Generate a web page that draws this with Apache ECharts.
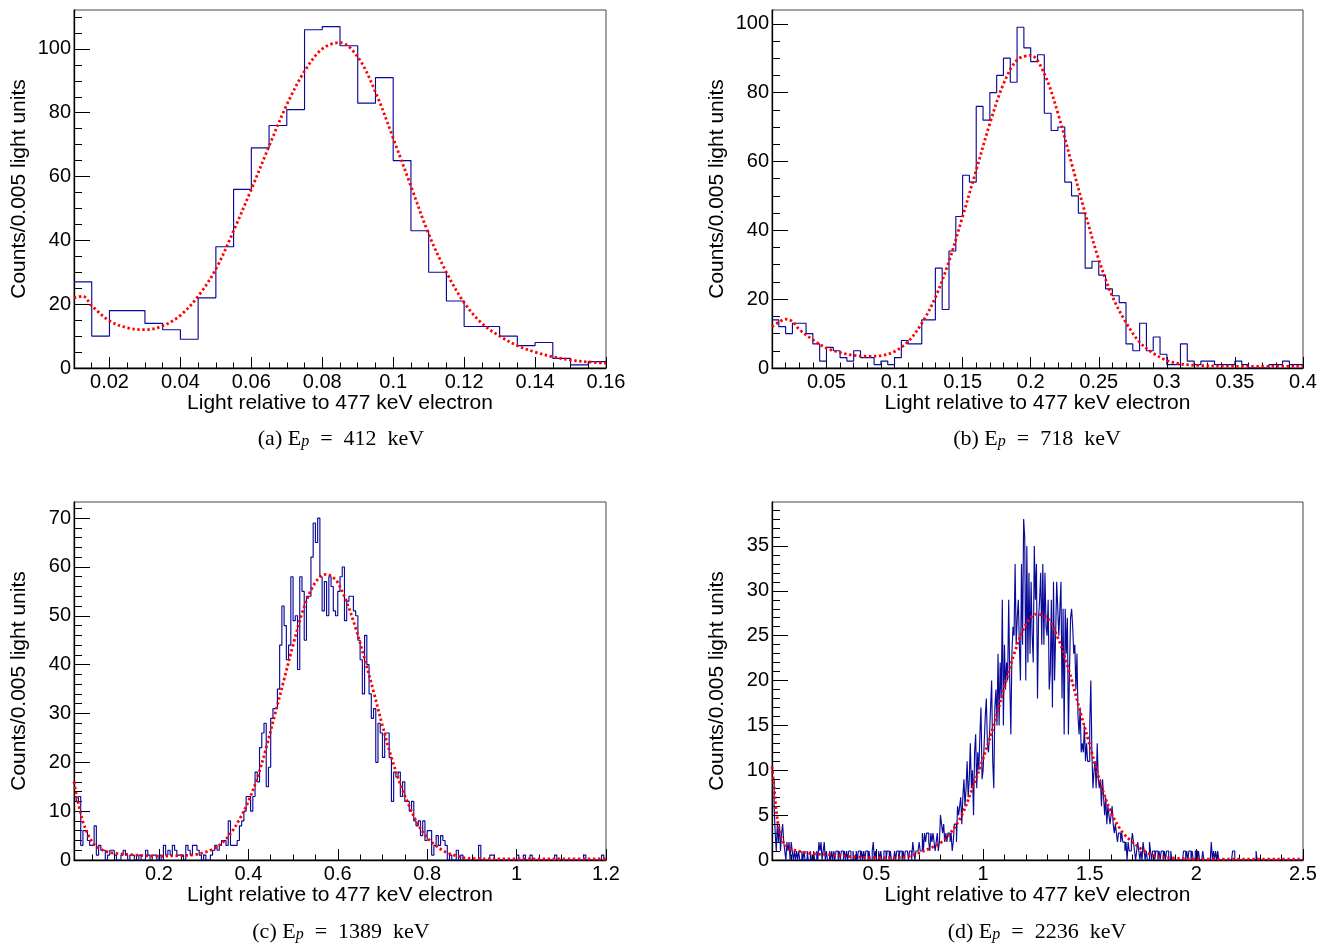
<!DOCTYPE html>
<html><head><meta charset="utf-8">
<script src="https://cdn.jsdelivr.net/npm/echarts@6/dist/echarts.min.js"></script>
<style>html,body{margin:0;padding:0;background:#fff}#c{width:1325px;height:945px}</style>
</head><body><div id="c"></div>
<script>
// ---------------- DATA ----------------
const binWidth = 0.005;
const histStart = 0.01;

// (a) Ep = 412 keV : counts per 0.005 bin from 0.01 to 0.16
const histA = [27,10,18,18,14,12,9,22,38,56,69,76,81,106,107,101,83,91,65,43,30,21,13,13,10,7,8,3,1,2];
const fitA = [[0.01,22],[0.0125,22.5],[0.015,19.5],[0.02,14.8],[0.025,12.6],[0.03,12],[0.035,13.2],[0.04,16.5],[0.045,22.5],[0.05,31],[0.055,43],[0.06,56],[0.065,69.5],[0.07,82.5],[0.075,93],[0.08,100],[0.085,102],[0.09,97.5],[0.095,86.5],[0.1,72],[0.105,57],[0.11,42],[0.115,30],[0.12,20.5],[0.125,14],[0.13,10],[0.135,7],[0.14,5],[0.145,3.5],[0.15,2.5],[0.155,1.9],[0.16,1.5]];

// (b) Ep = 718 keV : 0.01 .. 0.40
const histB = [14,12,10,13,13,10,7,2,6,5, 3,2,5,3,3,1,2,1,3,8, 7,7,14,14,29,17,34,44,56,54, 76,72,80,85,90,83,99,93,89,91, 74,69,70,54,50,45,29,31,27,23, 21,19,7,5,13,5,9,4,1,1, 7,2,1,2,2,1,1,1,2,1, 0,0,0,1,1,2,1,1];
const fitB = [[0.01,12],[0.015,13.3],[0.02,14.2],[0.025,13.5],[0.03,11.2],[0.04,8.2],[0.05,5.8],[0.06,4.5],[0.07,3.7],[0.08,3.4],[0.09,3.6],[0.1,4.8],[0.11,7.7],[0.12,13],[0.13,20.5],[0.14,31],[0.15,44],[0.16,57.5],[0.17,71],[0.18,82.5],[0.19,89.5],[0.2,90.8],[0.21,85.5],[0.22,74],[0.23,59.5],[0.24,45],[0.25,31.5],[0.26,20.8],[0.27,13.2],[0.28,7.5],[0.29,4.3],[0.3,2.2],[0.31,1.2],[0.32,0.8],[0.35,0.5],[0.4,0.5]];

// (c) Ep = 1389 keV : 0.01 .. 1.20
const histC = [13,12,13,3,6,6,4,3,3,7, 1,3,2,2,0,1,2,2,1,0, 0,1,2,1,0,1,1,0,0,1, 0,0,2,1,0,1,1,0,1,0,
 3,1,2,1,3,2,1,1,1,0, 3,2,1,3,3,2,1,0,1,0, 0,1,2,3,2,3,4,4,3,8, 3,3,3,4,7,8,10,13,13,10,
 13,18,16,23,26,28,15,19,29,31, 31,35,44,52,48,41,44,58,49,50, 39,58,55,45,54,54,62,69,65,70, 58,51,57,50,58,56,51,50,55,58,
 60,49,53,54,54,51,50,45,41,34, 46,40,34,29,31,20,28,26,21,26, 26,21,12,18,17,18,13,16,12,12, 10,12,8,7,8,5,8,4,6,6,
 1,3,5,3,5,4,3,0,1,0, 0,2,0,1,0,0,0,0,0,0, 0,3,0,0,0,0,1,1,0,0, 0,0,0,0,0,0,0,0,1,0,
 0,1,0,0,1,0,0,0,0,0, 0,0,0,0,0,1,0,0,0,0, 0,0,0,0,0,0,0,0,1,0, 0,0,0,0,0,0,1,0];
const fitC = [[0.01,16],[0.015,13.5],[0.02,11.5],[0.025,9.5],[0.03,7.8],[0.04,5.5],[0.05,3.8],[0.06,2.8],[0.08,1.8],[0.1,1.4],[0.15,1.0],[0.2,0.8],[0.25,0.9],[0.28,1.1],[0.3,1.5],[0.32,2.2],[0.34,3.4],[0.36,5.4],[0.38,8.3],[0.4,12],[0.42,16.8],[0.44,23],[0.46,30],[0.48,37],[0.5,44],[0.52,50.5],[0.54,55.2],[0.56,58],[0.575,58.5],[0.59,57.8],[0.6,56.8],[0.62,52.8],[0.64,47.5],[0.66,41.2],[0.68,34.5],[0.7,27.5],[0.72,21],[0.74,15.5],[0.76,11],[0.78,7.2],[0.8,4.6],[0.82,2.9],[0.84,1.7],[0.86,1.0],[0.88,0.5],[0.9,0.3],[1.0,0.2],[1.1,0.2],[1.2,0.2]];

// (d) Ep = 2236 keV : 0.01 .. 2.50
const histD = [9,9,6,3,1,4,2,4,1,3,4,2,1,0,2,1,2,0,
 2,1,0,1,0,1,0,1,0,0, 1,0,1,0,0,1,0,0,1,0, 0,1,0,0,1,0,2,1,2,0, 1,2,0,1,0,0,1,0,1,0,
 1,0,1,1,0,1,0,1,1,0, 1,0,1,0,1,1,0,0,1,0, 0,1,0,1,1,0,1,0,1,0, 1,1,0,1,0,0,1,2,0,1, 0,0,1,0,1,0,0,1,1,0, 1,1,0,1,0,0,0,1,0,1,
 1,0,1,1,0,1,0,1,1,1, 0,1,1,0,2,1,0,1,1,1, 2,1,1,3,1,3,2,3,3,2, 1,3,2,3,2,1,2,3,1,2,
 5,4,3,4,2,3,2,3,3,2, 3,1,2,4,4,2,6,5,6,7, 4,7,9,6,8,11,7,9,13,8, 10,5,12,14,8,12,10,14,17,9,
 10,13,16,18,13,12,14,17,20,11, 8,17,19,15,23,15,22,18,29,15, 24,19,22,20,29,20,14,23,26,25, 33,24,27,29,24,20,33,24,38,36,
 20,35,22,32,23,31,25,22,35,29, 33,18,27,29,32,24,33,24,32,26, 25,29,19,21,29,17,31,20,25,31, 28,25,28,31,18,28,14,28,23,27,
 14,21,27,28,26,23,24,19,23,16, 14,17,12,13,12,15,11,13,11,11, 15,20,12,8,10,11,8,13,9,8, 9,6,9,7,5,7,4,6,5,4,
 5,6,4,3,4,3,2,3,3,2, 3,2,2,1,2,0,2,1,1,2, 3,2,1,0,1,2,1,0,1,0, 2,1,0,1,0,0,2,1,0,1,
 1,0,1,1,0,1,0,1,1,0, 1,0,1,1,0,0,1,0,0,0, 0,0,0,0,0,0,0,0,1,1, 0,1,0,1,1,0,1,0,0,1,
 1,0,1,0,0,0,1,0,0,0, 0,0,0,0,2,0,1,0,1,0, 1,0,0,0,0,0,0,0,0,0, 0,0,0,0,1,1,0,0,0,0,
 0,0,0,0,0,0,0,0,0,0, 0,0,0,0,0,0,1,0,0,0, 0,0,0,0,0,0,0,0,0,0, 0,0,0,0,0,0,0,0,0,0,
 0,0,0,0,0,0,0,0,0,0, 0,0,0,0,0,0,0,0,0,0];
const fitD = [[0.01,10.4],[0.02,8],[0.03,5.5],[0.04,3.8],[0.05,2.8],[0.06,2.1],[0.08,1.5],[0.1,1.2],[0.15,0.9],[0.2,0.7],[0.3,0.55],[0.4,0.35],[0.5,0.25],[0.6,0.27],[0.65,0.4],[0.7,0.8],[0.75,1.3],[0.8,1.9],[0.85,3.1],[0.9,5],[0.95,8],[1.0,11.3],[1.05,15],[1.1,19.3],[1.15,23.3],[1.2,26.2],[1.25,27.4],[1.3,27],[1.35,24.8],[1.4,21.3],[1.45,17],[1.5,12.8],[1.55,8.6],[1.6,5.3],[1.65,3.2],[1.7,2],[1.75,1.1],[1.8,0.5],[1.9,0.2],[2.0,0.1],[2.5,0.1]];

// tick labels
const xTicksA = [0.02,0.04,0.06,0.08,0.1,0.12,0.14,0.16];
const xTicksB = [0.05,0.1,0.15,0.2,0.25,0.3,0.35,0.4];
const xTicksC = [0.2,0.4,0.6,0.8,1,1.2];
const xTicksD = [0.5,1,1.5,2,2.5];
const yTicksA = [0,20,40,60,80,100];
const yTicksB = [0,20,40,60,80,100];
const yTicksC = [0,10,20,30,40,50,60,70];
const yTicksD = [0,5,10,15,20,25,30,35];

const captions = ['(a) E{p|p}  =  412  keV','(b) E{p|p}  =  718  keV','(c) E{p|p}  =  1389  keV','(d) E{p|p}  =  2236  keV'];
const xTitle = 'Light relative to 477 keV electron';
const yTitle = 'Counts/0.005 light units';

// ---------------- LAYOUT ----------------
const panels = [
  {grid:{left:74, top:10, width:532, height:358}, x:[0.01,0.16], y:[0,112.2], xt:xTicksA, yt:yTicksA, xm:0.005, ym:5, h:histA, f:fitA, cap:[341,439]},
  {grid:{left:772, top:10, width:531, height:358}, x:[0.01,0.4], y:[0,104], xt:xTicksB, yt:yTicksB, xm:0.01, ym:5, h:histB, f:fitB, cap:[1037,439]},
  {grid:{left:74, top:502, width:532, height:358}, x:[0.01,1.2], y:[0,73.3], xt:xTicksC, yt:yTicksC, xm:0.05, ym:2, h:histC, f:fitC, cap:[341,932]},
  {grid:{left:772, top:502, width:531, height:358}, x:[0.01,2.5], y:[0,39.9], xt:xTicksD, yt:yTicksD, xm:0.1, ym:1, h:histD, f:fitD, cap:[1037,932]}
];

const FONT = 'Liberation Sans';
function fmt(v){ return String(parseFloat((+v).toFixed(6))); }
function minorVals(a, b, step){ const out=[]; const k0=Math.ceil(a/step-1e-9); for(let k=k0; k*step<=b+1e-9; k++){ out.push(+(k*step).toFixed(6)); } return out; }
function histPoints(counts){
  const pts=[];
  for(let i=0;i<counts.length;i++) pts.push([+(histStart+i*binWidth).toFixed(5), counts[i]]);
  pts.push([+(histStart+counts.length*binWidth).toFixed(5), counts[counts.length-1]]);
  return pts;
}

const option = {animation:false, backgroundColor:'#fff', grid:[], xAxis:[], yAxis:[], series:[], graphic:[]};
panels.forEach((p, i) => {
  option.grid.push(Object.assign({show:true, borderColor:'#444', borderWidth:1, backgroundColor:'transparent'}, p.grid));
  const common = {type:'value', gridIndex:i, splitLine:{show:false}};
  option.xAxis.push(Object.assign({}, common, {
    min:p.x[0], max:p.x[1], position:'bottom',
    axisLine:{show:true, lineStyle:{color:'#000', width:1.3}},
    axisTick:{show:true, inside:true, length:11, customValues:p.xt, lineStyle:{color:'#000', width:1}},
    axisLabel:{show:true, customValues:p.xt, formatter:fmt, margin:4, color:'#000', fontFamily:FONT, fontSize:20},
    name:xTitle, nameLocation:'middle', nameGap:21, nameTextStyle:{color:'#000', fontFamily:FONT, fontSize:21}
  }));
  option.xAxis.push(Object.assign({}, common, {
    min:p.x[0], max:p.x[1], position:'bottom',
    axisLine:{show:false}, axisLabel:{show:false},
    axisTick:{show:true, inside:true, length:5.5, customValues:minorVals(p.x[0], p.x[1], p.xm), lineStyle:{color:'#000', width:1}}
  }));
  option.yAxis.push(Object.assign({}, common, {
    min:p.y[0], max:p.y[1], position:'left',
    axisLine:{show:true, lineStyle:{color:'#000', width:1.3}},
    axisTick:{show:true, inside:true, length:16, customValues:p.yt, lineStyle:{color:'#000', width:1}},
    axisLabel:{show:true, customValues:p.yt, formatter:fmt, margin:3, color:'#000', fontFamily:FONT, fontSize:20},
    name:yTitle, nameLocation:'middle', nameRotate:90, nameGap:44, nameTextStyle:{color:'#000', fontFamily:FONT, fontSize:21}
  }));
  option.yAxis.push(Object.assign({}, common, {
    min:p.y[0], max:p.y[1], position:'left',
    axisLine:{show:false}, axisLabel:{show:false},
    axisTick:{show:true, inside:true, length:8, customValues:minorVals(p.y[0], p.y[1], p.ym), lineStyle:{color:'#000', width:1}}
  }));
  option.series.push({
    type:'line', xAxisIndex:2*i, yAxisIndex:2*i, data:histPoints(p.h), step:'end',
    showSymbol:false, symbol:'none', lineStyle:{color:'#0a0a9a', width:1.15}, z:2, silent:true
  });
  option.series.push({
    type:'line', xAxisIndex:2*i, yAxisIndex:2*i, data:p.f, smooth:0.35,
    showSymbol:false, symbol:'none', lineStyle:{color:'#ff0000', width:2.8, type:[2.4,2.6], cap:'butt'}, z:3, silent:true
  });
  option.graphic.push({
    type:'text', x:p.cap[0], y:p.cap[1],
    style:{text:captions[i], fill:'#000', fontFamily:'Liberation Serif', fontSize:22, align:'center', verticalAlign:'middle',
      rich:{p:{fontFamily:'Liberation Serif', fontSize:16, fontStyle:'italic', fill:'#000', verticalAlign:'bottom', lineHeight:8}}}
  });
});

const chart = echarts.init(document.getElementById('c'), null, {renderer:'canvas'});
chart.setOption(option);
</script>
</body></html>
